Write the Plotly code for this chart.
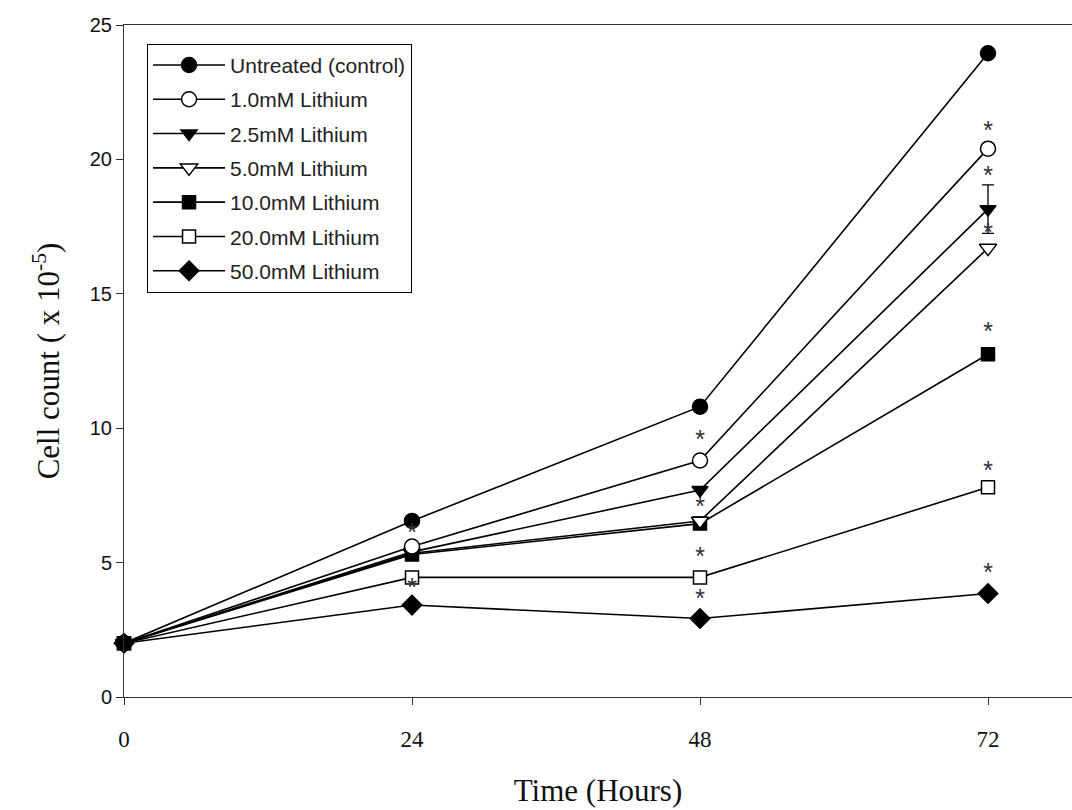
import plotly.graph_objects as go

hours = [0, 24, 48, 72]
series_names = ["Untreated (control)", "1.0mM Lithium", "2.5mM Lithium", "5.0mM Lithium",
                "10.0mM Lithium", "20.0mM Lithium", "50.0mM Lithium"]
untreated = [2.0, 6.55, 10.8, 23.95]
li_1_0 = [2.0, 5.6, 8.8, 20.4]
li_2_5 = [2.0, 5.4, 7.7, 18.15]
li_5_0 = [2.0, 5.35, 6.55, 16.7]
li_10_0 = [2.0, 5.3, 6.45, 12.75]
li_20_0 = [2.0, 4.45, 4.45, 7.8]
li_50_0 = [2.0, 3.42, 2.92, 3.85]
err_2_5 = [0, 0, 0, 0.9]

# significance asterisks (x in hours, y in cell count units)
star_x = [24, 24, 48, 48, 48, 48, 72, 72, 72, 72, 72, 72]
star_y = [6.05, 4.0, 9.5, 7.0, 5.14, 3.58, 20.98, 19.3, 17.2, 13.5, 8.34, 4.56]

symbols = ["circle", "circle", "triangle-down", "triangle-down", "square", "square", "diamond"]
fills = ["black", "white", "black", "white", "black", "white", "black"]
sizes = [15, 15, 14, 15, 13, 13, 15]
values = [untreated, li_1_0, li_2_5, li_5_0, li_10_0, li_20_0, li_50_0]

fig = go.Figure()
# draw in reverse so the control series sits on top; legend keeps original order
for i in reversed(range(len(series_names))):
    name, vals = series_names[i], values[i]
    kw = {}
    if name == "2.5mM Lithium":
        kw["error_y"] = dict(type="data", array=err_2_5, visible=True, color="black",
                             thickness=1.3, width=6)
    fig.add_trace(go.Scatter(
        x=hours, y=vals, name=name, mode="lines+markers", legendrank=i + 1,
        legendgroup="g%d" % i,
        line=dict(color="black", width=1.6),
        marker=dict(symbol=symbols[i], size=sizes[i], color=fills[i],
                    line=dict(color="black", width=1.5)),
        cliponaxis=False, **kw))

fig.add_trace(go.Scatter(
    x=star_x, y=star_y, mode="text", text=["*"] * len(star_x),
    textposition="middle center", showlegend=False, cliponaxis=False,
    textfont=dict(family="Liberation Sans, Arial", size=25, color="#333")))

fig.update_layout(
    width=1072, height=810,
    margin=dict(l=124, r=0, t=25, b=113),
    plot_bgcolor="white", paper_bgcolor="white",
    showlegend=True,
    legend=dict(x=0.0243, y=0.972, xanchor="left", yanchor="top",
                bordercolor="black", borderwidth=1, bgcolor="white",
                font=dict(family="Liberation Sans, Arial", size=21, color="#222"),
                tracegroupgap=4, itemsizing="trace", itemwidth=72,
                traceorder="grouped"),
    xaxis=dict(range=[0, 79], tickvals=hours, ticktext=[str(h) for h in hours],
               showgrid=False, zeroline=False, showline=True, linecolor="#333",
               linewidth=1, mirror=True, ticks="outside", ticklen=7, tickcolor="#333",
               ticklabelstandoff=14,
               tickfont=dict(family="Liberation Serif, Times New Roman", size=23, color="#111"),
               title=dict(text="Time (Hours)", standoff=28,
                          font=dict(family="Liberation Serif, Times New Roman", size=31, color="#111"))),
    yaxis=dict(range=[0, 25], dtick=5, tick0=0,
               showgrid=False, zeroline=False, showline=True, linecolor="#333",
               linewidth=1, ticks="outside", ticklen=7, tickcolor="#333",
               tickfont=dict(family="Liberation Sans, Arial", size=20, color="#111"),
               title=dict(text="Cell count ( x 10<sup>-5</sup>)", standoff=20,
                          font=dict(family="Liberation Serif, Times New Roman", size=31, color="#111"))),
)

fig.write_html("out.html")
